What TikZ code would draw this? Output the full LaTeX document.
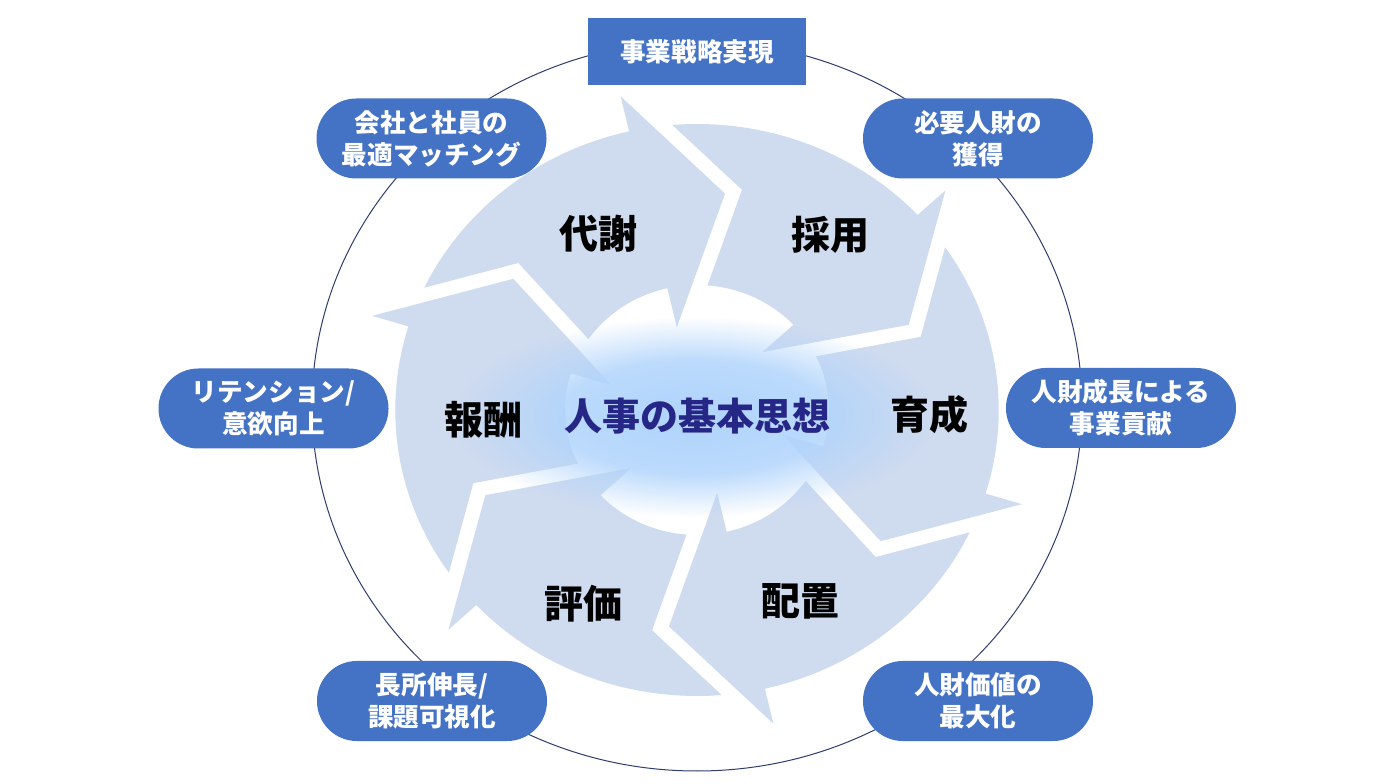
\documentclass[tikz,border=0pt]{standalone}
\usepackage{fontspec}
\newfontfamily\jp{Noto Sans CJK JP}
\usetikzlibrary{fadings}
\definecolor{boxblue}{RGB}{68,114,196}
\definecolor{segfill}{RGB}{207,219,239}
\definecolor{navy}{RGB}{38,38,135}
\definecolor{ringline}{RGB}{47,62,110}
\definecolor{glowblue}{RGB}{176,212,252}
\pgfdeclareradialshading{glowshade}{\pgfpointorigin}{color(0bp)=(white); color(14bp)=(white!85!black); color(25bp)=(black); color(50bp)=(black)}
\pgfdeclarefading{glowfade}{\pgfuseshading{glowshade}}
\begin{document}
\begin{tikzpicture}[x=0.5pt,y=0.5pt,
  pill/.style={fill=boxblue, text=white, font=\jp\bfseries\fontsize{12.8pt}{16pt}\selectfont,
    align=center, minimum width=115pt, minimum height=40pt, rounded corners=19.9pt, inner sep=0pt},
  topbox/.style={fill=boxblue, text=white, font=\jp\bfseries\fontsize{12.8pt}{16pt}\selectfont,
    minimum width=109pt, minimum height=33.5pt, inner sep=0pt},
  seg/.style={fill=segfill},
  steplabel/.style={font=\jp\bfseries\fontsize{19.5pt}{22pt}\selectfont, text=black, inner sep=0pt},
  titletext/.style={font=\jp\bfseries\fontsize{19pt}{22pt}\selectfont, inner sep=0pt},
]
\useasboundingbox (0,0) rectangle (1394,783);
\fill[white] (0,0) rectangle (1394,783);
% outer thin ellipse
\draw[ringline, line width=0.5pt] (697,377) ellipse [x radius=385, y radius=365];
% six circular arrow segments
\begin{scope}[shift={(697,373)}, xscale=1.055]
\foreach \h in {83,23,-37,-97,-157,143} {
  \fill[seg] ({\h+71.68}:286) -- ({\h+56.04}:224.3) -- ({\h+62.43}:125)
    arc[start angle={\h+62.43}, end angle={\h+20}, radius=125]
    -- ({\h+20}:85) -- (\h:218) -- ({\h+20}:322) -- ({\h+20}:286)
    arc[start angle={\h+20}, end angle={\h+71.68}, radius=286] -- cycle;
}
\end{scope}
% glow behind the title
\fill[glowblue, path fading=glowfade] (694,366) ellipse [x radius=240, y radius=100];
\node[titletext, text=navy] (title) at (697,367) {人事の基本思想};
% step labels
\node[steplabel] (l1) at (598,549) {代謝};
\node[steplabel] (l2) at (830,548) {採用};
\node[steplabel] (l3) at (929,368) {育成};
\node[steplabel] (l4) at (800,182) {配置};
\node[steplabel] (l5) at (583,179) {評価};
\node[steplabel] (l6) at (483,363) {報酬};
% outer boxes
\node[topbox] (top) at (697,731.5) {事業戦略実現};
\node[pill] (b1) at (431.5,644.5) {会社と社員の\\最適マッチング};
\node[pill] (b2) at (978,644.5) {必要人財の\\獲得};
\node[pill] (b3) at (273.5,374.5) {リテンション/\\意欲向上};
\node[pill] (b4) at (1121,375) {人財成長による\\事業貢献};
\node[pill] (b5) at (432,82) {長所伸長/\\課題可視化};
\node[pill] (b6) at (978,82) {人財価値の\\最大化};
\end{tikzpicture}
\end{document}
